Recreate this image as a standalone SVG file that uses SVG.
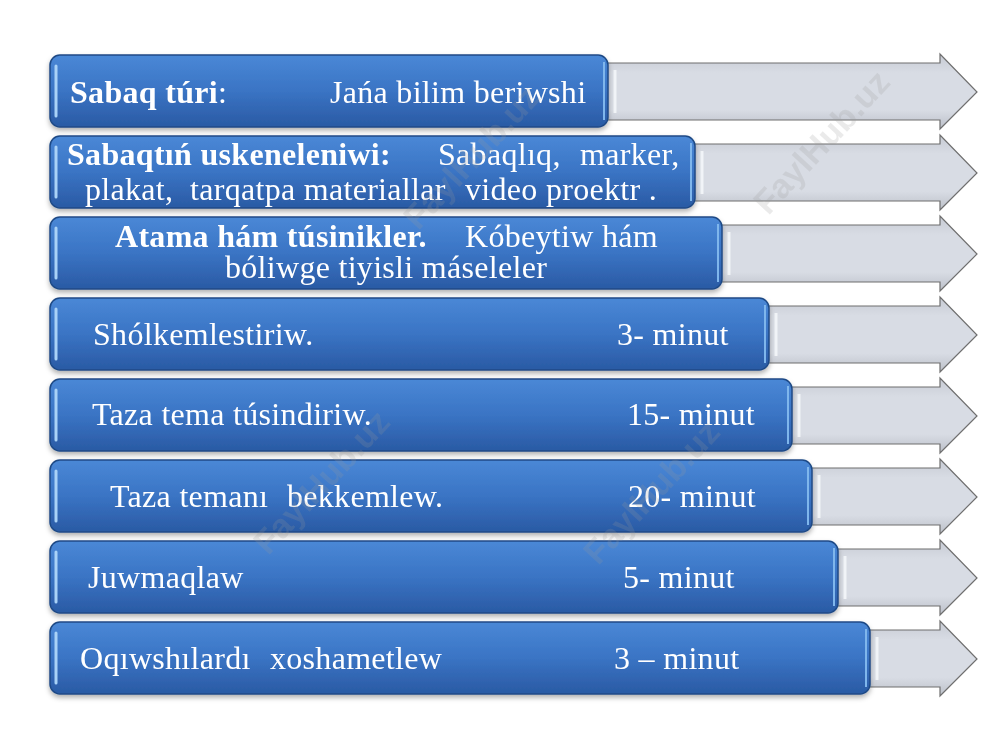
<svg xmlns="http://www.w3.org/2000/svg" width="1000" height="750" viewBox="0 0 1000 750">
<style>
.t{font-family:"Liberation Serif","Times New Roman",serif;font-size:32px;fill:#ffffff;letter-spacing:0.3px}
.b{font-weight:bold}
.box{fill:url(#blue);stroke:#1f4a86;stroke-width:1.5}
.hl{stroke:#a9d2f7;stroke-width:3;stroke-linecap:round;fill:none}
.hr{stroke:#7fb6ec;stroke-width:2;fill:none}
.arr{fill:url(#gray);stroke:#6f6f6f;stroke-width:1.2}
.bev{fill:none;stroke:#f4f6fa;stroke-width:3;opacity:0.9}
.wm{font-family:"Liberation Sans",Arial,sans-serif;font-weight:bold;font-size:34px;fill:#9a9a9a;opacity:0.2}
</style>
<defs>
<linearGradient id="blue" x1="0" y1="0" x2="0" y2="1">
<stop offset="0" stop-color="#4a88d6"/>
<stop offset="0.5" stop-color="#3a74c4"/>
<stop offset="1" stop-color="#2a5aa4"/>
</linearGradient>
<linearGradient id="gray" x1="0" y1="0" x2="0" y2="1">
<stop offset="0" stop-color="#c6cad3"/>
<stop offset="0.25" stop-color="#d8dce4"/>
<stop offset="0.75" stop-color="#d8dce4"/>
<stop offset="1" stop-color="#bcc0c9"/>
</linearGradient>
<filter id="sh" x="-5%" y="-20%" width="110%" height="150%">
<feDropShadow dx="0" dy="3" stdDeviation="2.5" flood-color="#000" flood-opacity="0.3"/>
</filter>
</defs>
<rect width="1000" height="750" fill="#ffffff"/>

<g id="connectors">
<path class="arr" d="M593,63 L940,63 L940,54 L977,92 L940,129 L940,120 L593,120 Z"/>
<path class="bev" d="M615,70 L615,113"/>
<path class="arr" d="M680,144 L940,144 L940,135 L977,173 L940,210 L940,201 L680,201 Z"/>
<path class="bev" d="M702,151 L702,194"/>
<path class="arr" d="M707,225 L940,225 L940,216 L977,254 L940,291 L940,282 L707,282 Z"/>
<path class="bev" d="M729,232 L729,275"/>
<path class="arr" d="M754,306 L940,306 L940,297 L977,335 L940,372 L940,363 L754,363 Z"/>
<path class="bev" d="M776,313 L776,356"/>
<path class="arr" d="M777,387 L940,387 L940,378 L977,416 L940,453 L940,444 L777,444 Z"/>
<path class="bev" d="M799,394 L799,437"/>
<path class="arr" d="M797,468 L940,468 L940,459 L977,497 L940,534 L940,525 L797,525 Z"/>
<path class="bev" d="M819,475 L819,518"/>
<path class="arr" d="M823,549 L940,549 L940,540 L977,578 L940,615 L940,606 L823,606 Z"/>
<path class="bev" d="M845,556 L845,599"/>
<path class="arr" d="M855,630 L940,630 L940,621 L977,659 L940,696 L940,687 L855,687 Z"/>
<path class="bev" d="M877,637 L877,680"/>
</g>

<g id="node1" filter="url(#sh)">
<rect class="box" x="50" y="55" width="558" height="72" rx="10"/>
<path class="hl" d="M56,66 L56,116"/>
<path class="hr" d="M604,62 L604,120"/>
<text class="t" x="70" y="103"><tspan class="b">Sabaq túri</tspan>:</text>
<text class="t" x="330" y="103">Jańa bilim beriwshi</text>
</g>

<g id="node2" filter="url(#sh)">
<rect class="box" x="50" y="136" width="645" height="72" rx="10"/>
<path class="hl" d="M56,147 L56,197"/>
<path class="hr" d="M691,143 L691,201"/>
<text class="t b" x="67" y="165">Sabaqtıń uskeneleniwi:</text>
<text class="t" x="438" y="165">Sabaqlıq,</text>
<text class="t" x="580" y="165">marker,</text>
<text class="t" x="85" y="200">plakat,</text>
<text class="t" x="190" y="200">tarqatpa materiallar</text>
<text class="t" x="465" y="200">video proektr .</text>
</g>

<g id="node3" filter="url(#sh)">
<rect class="box" x="50" y="217" width="672" height="72" rx="10"/>
<path class="hl" d="M56,228 L56,278"/>
<path class="hr" d="M718,224 L718,282"/>
<text class="t b" x="115" y="247">Atama hám túsinikler.</text>
<text class="t" x="465" y="247">Kóbeytiw hám</text>
<text class="t" x="225" y="278">bóliwge tiyisli máseleler</text>
</g>

<g id="node4" filter="url(#sh)">
<rect class="box" x="50" y="298" width="719" height="72" rx="10"/>
<path class="hl" d="M56,309 L56,359"/>
<path class="hr" d="M765,305 L765,363"/>
<text class="t" x="93" y="345">Shólkemlestiriw.</text>
<text class="t" x="617" y="345">3- minut</text>
</g>

<g id="node5" filter="url(#sh)">
<rect class="box" x="50" y="379" width="742" height="72" rx="10"/>
<path class="hl" d="M56,390 L56,440"/>
<path class="hr" d="M788,386 L788,444"/>
<text class="t" x="92" y="425">Taza tema túsindiriw.</text>
<text class="t" x="627" y="425">15- minut</text>
</g>

<g id="node6" filter="url(#sh)">
<rect class="box" x="50" y="460" width="762" height="72" rx="10"/>
<path class="hl" d="M56,471 L56,521"/>
<path class="hr" d="M808,467 L808,525"/>
<text class="t" x="110" y="507">Taza temanı</text>
<text class="t" x="287" y="507">bekkemlew.</text>
<text class="t" x="628" y="507">20- minut</text>
</g>

<g id="node7" filter="url(#sh)">
<rect class="box" x="50" y="541" width="788" height="72" rx="10"/>
<path class="hl" d="M56,552 L56,602"/>
<path class="hr" d="M834,548 L834,606"/>
<text class="t" x="88" y="588">Juwmaqlaw</text>
<text class="t" x="623" y="588">5- minut</text>
</g>

<g id="node8" filter="url(#sh)">
<rect class="box" x="50" y="622" width="820" height="72" rx="10"/>
<path class="hl" d="M56,633 L56,683"/>
<path class="hr" d="M866,629 L866,687"/>
<text class="t" x="80" y="669">Oqıwshılardı</text>
<text class="t" x="270" y="669">xoshametlew</text>
<text class="t" x="614" y="669">3 – minut</text>
</g>

<g id="watermarks">
<text class="wm" transform="translate(830,150) rotate(-47)" text-anchor="middle">FaylHub.uz</text>
<text class="wm" transform="translate(480,165) rotate(-47)" text-anchor="middle">FaylHub.uz</text>
<text class="wm" transform="translate(330,490) rotate(-47)" text-anchor="middle">FaylHub.uz</text>
<text class="wm" transform="translate(660,500) rotate(-47)" text-anchor="middle">FaylHub.uz</text>
</g>
</svg>
